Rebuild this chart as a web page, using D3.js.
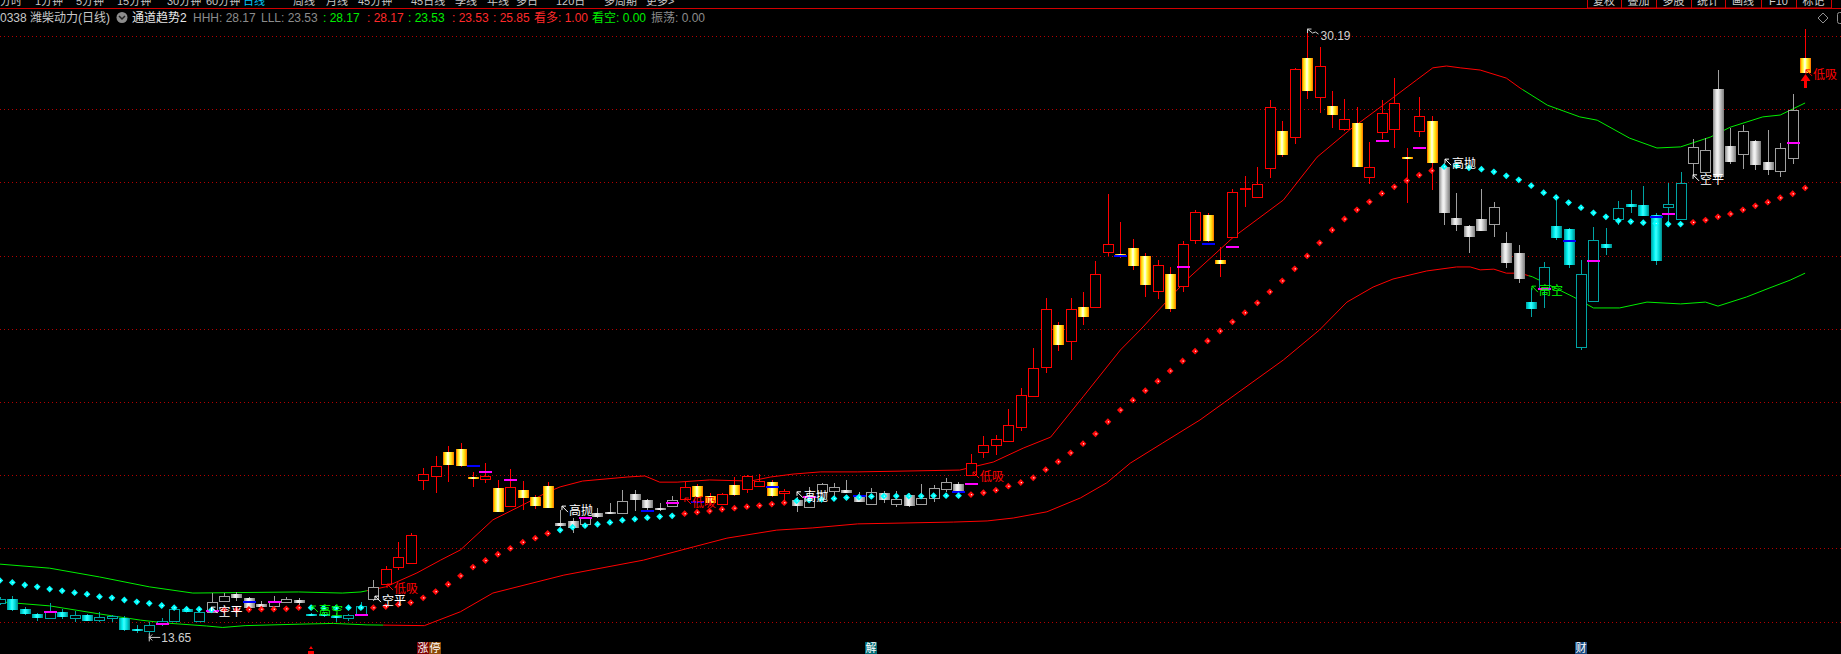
<!DOCTYPE html>
<html><head><meta charset="utf-8">
<script src="https://cdn.jsdelivr.net/npm/d3@7"></script>
<style>
html,body{margin:0;padding:0;background:#000;overflow:hidden;}
svg{display:block;}
text{font-family:"Liberation Sans","Noto Sans CJK SC",sans-serif;}
</style></head><body>
<svg id="c" width="1841" height="654"></svg>
<script>
// ---------------- DATA ----------------
const firstIndex = -1; // first (partly hidden) candle
const opens = [
14.50,14.61,14.34,14.21,14.11,14.27,14.09,14.18,14.04,14.11,
14.11,13.81,13.75,13.93,14.02,14.34,14.02,14.27,14.57,14.76,
14.64,14.48,14.43,14.53,14.59,14.21,14.21,14.15,14.11,14.17,
14.63,15.02,15.50,15.61,17.87,17.98,18.63,18.72,17.96,17.89,
17.66,17.17,17.60,17.41,17.70,16.69,16.75,16.66,16.96,16.99,
16.96,17.49,17.32,17.11,17.17,17.34,17.71,17.43,17.21,17.73,
17.61,17.71,17.82,17.51,17.32,17.14,17.55,17.58,17.60,17.43,
17.21,17.51,17.21,17.46,17.21,17.39,17.62,17.76,18.01,18.64,
18.82,18.94,19.32,20.17,20.96,22.10,21.68,22.59,22.59,24.11,
24.04,24.21,23.99,23.04,23.50,23.18,24.42,25.11,23.88,24.50,
25.81,25.61,26.39,27.40,27.25,29.39,28.34,28.09,27.47,27.63,
26.16,27.37,27.45,26.69,27.40,27.68,26.43,25.02,24.81,24.99,
24.86,24.34,24.06,22.73,23.09,24.81,24.72,21.49,22.77,24.31,
24.99,25.40,25.38,25.11,25.34,24.99,26.54,26.29,28.54,26.99,
26.77,27.14,26.56,26.32,26.66,29.39];
const highs = [
14.67,14.70,14.40,14.23,14.51,14.34,14.30,14.21,14.25,14.18,
14.15,13.91,13.99,14.11,14.37,14.41,14.29,14.77,14.78,14.80,
14.67,14.55,14.70,14.67,14.64,14.23,14.26,14.23,14.21,14.54,
15.14,15.52,16.18,16.43,18.20,18.52,18.79,18.87,18.10,18.34,
17.87,18.16,17.84,17.47,17.82,17.05,16.82,16.87,17.10,17.25,
17.60,17.60,17.35,17.23,17.43,17.82,17.76,17.51,17.51,17.96,
18.01,18.03,17.87,17.62,17.41,17.68,17.80,17.80,17.87,17.53,
17.64,17.57,17.57,17.51,17.76,17.73,17.93,17.81,18.58,19.07,
19.10,19.81,20.38,21.48,22.83,22.19,22.83,23.01,23.85,25.68,
24.93,24.45,24.06,23.88,23.70,24.41,25.25,25.17,24.23,25.81,
26.18,26.43,28.25,27.68,29.12,30.19,29.71,28.51,28.28,28.05,
27.11,28.25,28.84,26.93,28.33,27.81,26.53,25.70,24.84,25.81,
25.47,24.65,24.29,23.11,23.83,25.61,24.75,23.88,24.77,24.75,
25.48,25.79,25.90,25.16,25.99,26.28,27.18,27.22,29.07,27.49,
27.57,27.16,27.43,27.07,28.42,30.18];
const lows = [
14.45,14.29,14.18,14.02,14.10,14.07,14.00,14.01,13.99,14.00,
13.74,13.69,13.65,13.88,13.99,14.26,13.99,14.26,14.56,14.55,
14.37,14.37,14.43,14.51,14.45,14.15,14.13,14.00,14.01,14.15,
14.55,15.00,15.41,15.60,17.60,17.52,17.82,18.23,17.69,17.78,
16.99,17.16,17.05,17.07,17.10,16.59,16.42,16.64,16.83,16.94,
16.94,17.03,17.02,17.02,17.16,17.32,17.40,17.16,17.19,17.43,
17.51,17.68,17.40,17.28,17.00,17.13,17.54,17.41,17.51,17.27,
17.19,17.23,17.14,17.14,17.19,17.28,17.55,17.54,17.98,18.46,
18.55,18.93,19.21,20.13,20.80,21.39,21.15,22.11,22.57,24.00,
23.93,23.61,22.88,22.81,22.47,23.01,24.32,24.37,23.42,24.48,
25.32,25.57,26.13,26.70,27.04,28.28,27.90,27.49,27.40,26.42,
25.95,27.19,26.95,25.43,27.25,25.79,24.84,24.68,24.06,24.67,
24.52,23.67,23.24,22.33,22.56,24.43,23.65,21.42,22.76,24.02,
24.84,25.16,25.08,23.74,24.93,24.97,26.20,26.28,26.15,26.50,
26.37,26.34,26.20,26.16,26.50,28.99];
const closes = [
14.61,14.32,14.21,14.11,14.25,14.13,14.18,14.02,14.12,14.15,
13.77,13.75,13.91,14.02,14.34,14.27,14.25,14.53,14.70,14.64,
14.38,14.41,14.55,14.61,14.52,14.16,14.14,14.11,14.18,14.43,
14.94,15.44,15.76,16.37,18.02,18.25,18.28,18.25,17.89,17.98,
17.00,17.67,17.39,17.17,17.11,16.62,16.57,16.84,16.87,16.95,
17.30,17.32,17.10,17.05,17.32,17.67,17.41,17.23,17.49,17.46,
17.98,17.84,17.43,17.57,17.16,17.43,17.75,17.67,17.52,17.28,
17.53,17.31,17.34,17.17,17.37,17.64,17.81,17.55,18.32,18.82,
18.98,19.37,20.18,20.93,22.53,21.56,22.53,22.33,23.49,24.31,
23.99,23.72,23.20,23.73,22.54,24.31,25.18,24.40,23.76,25.73,
25.86,25.95,28.05,26.75,29.09,28.51,29.19,27.84,27.72,26.43,
26.41,27.89,28.16,26.65,27.81,26.54,25.17,24.84,24.52,24.68,
25.34,23.79,23.35,22.53,23.70,24.49,23.74,23.49,24.43,24.22,
25.29,25.34,25.09,23.86,25.40,25.98,26.98,26.89,26.16,26.56,
27.40,26.48,26.34,26.93,27.98,29.00];
// middle channel (dotted)
const midLine = [
15.12,15.07,15.00,14.95,14.89,14.84,14.79,14.75,14.68,14.65,
14.59,14.54,14.50,14.44,14.38,14.34,14.34,14.32,14.32,14.32,
14.33,14.34,14.34,14.35,14.38,14.38,14.37,14.37,14.38,14.38,
14.38,14.41,14.47,14.52,14.65,14.82,15.02,15.25,15.49,15.67,
15.84,16.00,16.17,16.28,16.41,16.50,16.58,16.62,16.66,16.71,
16.77,16.80,16.84,16.87,16.89,16.95,16.99,17.02,17.07,17.10,
17.14,17.17,17.21,17.25,17.30,17.32,17.34,17.36,17.39,17.40,
17.42,17.43,17.43,17.43,17.43,17.44,17.44,17.44,17.47,17.52,
17.59,17.70,17.80,17.93,18.15,18.37,18.61,18.86,19.13,19.46,
19.78,20.05,20.31,20.57,20.85,21.12,21.39,21.67,21.94,22.19,
22.44,22.71,23.01,23.31,23.64,23.99,24.35,24.70,25.00,25.25,
25.47,25.70,25.88,26.05,26.20,26.32,26.43,26.45,26.40,26.36,
26.29,26.18,26.07,25.91,25.72,25.59,25.45,25.31,25.17,25.06,
24.95,24.93,24.90,24.88,24.86,24.86,24.91,24.97,25.06,25.14,
25.25,25.36,25.46,25.58,25.69,25.85];
// upper / lower channel read points [candle position, price]
const upperPts = [[-1,15.57],[3,15.46],[7,15.22],[11,14.95],[14.5,14.78],[23,14.81],[26.5,14.78],[28,14.81],[30,14.95],[32.5,15.33],[34.4,15.68],[36,15.96],[38.6,16.78],[41.3,17.24],[43,17.54],[44,17.68],[45.8,17.84],[49.4,17.95],[50.8,17.98],[52,17.81],[53.4,17.81],[56,17.87],[59.3,17.84],[60.9,17.95],[62.7,18.03],[64.9,18.09],[67.9,18.09],[76.1,18.14],[78.8,18.36],[81.2,18.74],[83.4,19.04],[86,20.14],[89,21.42],[90.6,21.97],[94.3,23.33],[98.1,24.51],[102.1,25.52],[104.8,26.69],[107.4,27.43],[110.1,28.11],[112.8,28.80],[114.1,29.13],[115.2,29.18],[116.3,29.13],[117.9,29.07],[120,28.85],[121.1,28.58],[123.3,28.11],[125.9,27.79],[127.3,27.70],[129.9,27.21],[132.1,26.94],[134,26.97],[136.4,27.24],[138,27.51],[140.6,27.79],[142,27.84],[144,28.17]];
const lowerPts = [[-1,14.54],[3,14.43],[7,14.21],[10.3,14.04],[12.4,13.96],[15.6,13.88],[16.9,13.84],[18.7,13.89],[23.1,13.93],[25.8,13.95],[28.5,13.91],[33.1,13.89],[36,14.27],[38.6,14.78],[44.3,15.27],[50.7,15.68],[54.7,16.04],[57.4,16.28],[61.4,16.50],[64.3,16.56],[67.9,16.67],[75.6,16.72],[78.3,16.75],[80.4,16.83],[83.1,17.00],[85.8,17.38],[87.9,17.79],[89.8,18.33],[92.4,18.88],[95.4,19.51],[102.1,21.15],[105,21.97],[107.2,22.73],[109.3,23.14],[110.9,23.36],[113.6,23.58],[116,23.69],[117.1,23.69],[117.9,23.61],[119,23.63],[120,23.52],[121.1,23.52],[122.1,23.42],[125.4,22.87],[127,22.57],[129.1,22.57],[131.3,22.73],[134,22.68],[136,22.73],[137,22.62],[139.3,22.87],[141.1,23.11],[142.8,23.33],[144,23.52]];
// trend state runs  [from, to, state]  r = strong, g = neutral, c = weak
const candleStates = [[-1,15,"c"],[16,23,"g"],[24,28,"c"],[29,29,"g"],[30,43,"r"],[44,53,"g"],[54,62,"r"],[63,76,"g"],[77,114,"r"],[115,121,"g"],[122,134,"c"],[135,143,"g"],[144,144,"r"]];
const dotStates = [[-1,16,"c"],[17,23,"r"],[24,28,"c"],[29,43,"r"],[44,53,"c"],[54,62,"r"],[63,76,"c"],[77,114,"r"],[115,134,"c"],[135,144,"r"]];
const upperStates = [[-1,28.5,"g"],[28.5,121.3,"r"],[121.3,144,"g"]];
const lowerStates = [[-1,29.8,"g"],[29.8,121.8,"r"],[121.8,144,"g"]];
// small marker dashes
const markIdx   = [3,12,16,19,21,28,37,38,40,46,51,53,55,61,64,68,76,77,89,94,96,98,110,113,123,125,127,132,133,143];
const markPrice = [14.25,13.93,14.29,14.53,14.54,14.17,18.24,18.10,17.86,16.82,17.02,17.23,17.28,17.67,17.41,17.44,17.53,17.76,23.98,23.68,24.31,24.23,27.12,26.93,23.09,24.39,23.86,25.05,25.13,27.07];
const markType  = ["m","m","m","b","m","m","b","m","m","m","b","m","b","b","m","b","b","m","b","m","b","m","m","m","m","b","m","b","m","m"];
// signals
const sigPos   = [16.0,24.07,30.1,29.13,44.15,54.03,63.03,77.17,115.08,122.06,135.0,144.07];
const sigPrice = [14.15,14.18,14.78,14.45,16.91,17.13,17.30,17.84,26.39,22.92,25.96,28.83];
const sigText  = ["空平","高空","低吸","空平","高抛","低吸","高抛","低吸","高抛","高空","空平","低吸"];
// extremes
const maxIdx = 104, maxVal = 30.19, minIdx = 11, minVal = 13.65;
// grid
const gridPrices = [30,28,26,24,22,20,18,16,14];
// bottom events
const eventIdx = [24,33,69,126];
const eventText = ["icon","涨停","解","财"];
// header
const menuItems = ["分时","1分钟","5分钟","15分钟","30分钟","60分钟","日线","周线","月线","45分钟","45日线","季线","年线","多日","120日","多周期","更多>"];
const menuX = [0,35,76,117,167,206,243,293,326,358,411,455,487,516,556,604,646];
const buttons = ["复权","叠加","多股","统计","画线","F10","标记"];
const buttonX = [1587,1621,1656,1691,1725,1761,1796,1831];
const infoTitle = "0338 潍柴动力(日线)";
const indName = "通道趋势2";
const infoParts = [
  {t:"HHH: 28.17", c:"gray", x:193},{t:"LLL: 23.53", c:"gray", x:261},
  {t:": 28.17", c:"green", x:323},{t:": 28.17", c:"red", x:367},
  {t:": 23.53", c:"green", x:408},{t:": 23.53", c:"red", x:452},
  {t:": 25.85", c:"red", x:493},{t:"看多: 1.00", c:"red", x:534},
  {t:"看空: 0.00", c:"green", x:592},{t:"振荡: 0.00", c:"gray", x:651}];

// ---------------- DRAW ----------------
const W = 1841, H = 654;
const svg = d3.select("#c");
svg.append("rect").attr("width",W).attr("height",H).attr("fill","#000");
const x = d3.scaleLinear().domain([-1,144]).range([-0.15,1805.1]);
const y = d3.scaleLinear().domain([14,30]).range([621.6,36]);
const stateOf = (runs,i)=>{const r=runs.find(r=>i>=r[0]&&i<=r[1]);return r?r[2]:"g";};

const defs = svg.append("defs");
function grad(id, stops){
  const g = defs.append("linearGradient").attr("id",id).attr("x1",0).attr("x2",1).attr("y1",0).attr("y2",0);
  stops.forEach(s=>g.append("stop").attr("offset",s[0]).attr("stop-color",s[1]));
}
grad("gR",[[0,"#ff5000"],[0.12,"#ffc800"],[0.3,"#ffff50"],[0.45,"#ffffff"],[0.62,"#ffff40"],[0.85,"#ffc000"],[1,"#ff6a00"]]);
grad("gG",[[0,"#8a8a8a"],[0.3,"#e6e6e6"],[0.45,"#f4f4f4"],[0.7,"#bcbcbc"],[1,"#7c7c7c"]]);
grad("gC",[[0,"#009c9c"],[0.3,"#00f4f4"],[0.45,"#40ffff"],[0.7,"#00dede"],[1,"#008888"]]);

const strokeCol = {r:"#ff0000", g:"#a0a0a0", c:"#00a4a4"};
const lineCol = {r:"#ff0000", g:"#00ee00", c:"#00ee00"};

// grid
svg.append("g").selectAll("line").data(gridPrices).join("line")
  .attr("x1",0).attr("x2",W)
  .attr("y1",d=>Math.round(y(d))+0.5).attr("y2",d=>Math.round(y(d))+0.5)
  .attr("stroke","#b40000").attr("stroke-dasharray","1,3");

// channel lines
const lineGen = d3.line().x(d=>x(d[0])).y(d=>y(d[1]));
function channel(pts, runs, name){
  runs.forEach((r,k)=>{
    const id = "clip"+name+k;
    defs.append("clipPath").attr("id",id).append("rect")
      .attr("x",k===0?-10:x(r[0])).attr("width",(k===runs.length-1?W+10:x(r[1]))-(k===0?-10:x(r[0])))
      .attr("y",0).attr("height",H);
    svg.append("path").datum(pts).attr("d",lineGen).attr("fill","none")
      .attr("stroke",lineCol[r[2]]).attr("stroke-width",1).attr("clip-path",`url(#${id})`);
  });
}
channel(upperPts, upperStates, "U");
channel(lowerPts, lowerStates, "L");

// candles
const candles = opens.map((o,k)=>({i:k+firstIndex,o,h:highs[k],l:lows[k],c:closes[k]}));
const cg = svg.append("g").attr("shape-rendering","crispEdges");
candles.forEach(d=>{
  const s = stateOf(candleStates,d.i);
  const cx = Math.round(x(d.i));
  const left = cx-5;
  const yo=y(d.o), yc=y(d.c), yh=y(d.h), yl=y(d.l);
  const top = Math.round(Math.min(yo,yc)), bot = Math.round(Math.max(yo,yc));
  const wc = strokeCol[s];
  const bull = d.c >= d.o;
  if(bull){
    cg.append("line").attr("x1",cx+0.5).attr("x2",cx+0.5).attr("y1",Math.round(yh)).attr("y2",top).attr("stroke",wc);
    cg.append("line").attr("x1",cx+0.5).attr("x2",cx+0.5).attr("y1",bot).attr("y2",Math.round(yl)).attr("stroke",wc);
    cg.append("rect").attr("x",left+0.5).attr("y",top+0.5).attr("width",10).attr("height",Math.max(1,bot-top))
      .attr("fill","#000").attr("stroke",wc);
  } else {
    cg.append("line").attr("x1",cx+0.5).attr("x2",cx+0.5).attr("y1",Math.round(yh)).attr("y2",Math.round(yl)).attr("stroke",wc);
    cg.append("rect").attr("x",left).attr("y",top).attr("width",11).attr("height",Math.max(2,bot-top))
      .attr("fill",`url(#g${s.toUpperCase()})`);
  }
});

// marker dashes
svg.append("g").attr("shape-rendering","crispEdges").selectAll("rect").data(markIdx).join("rect")
  .attr("x",(d)=>Math.round(x(d))-6).attr("width",13)
  .attr("y",(d,k)=>Math.round(y(markPrice[k]))-1).attr("height",2)
  .attr("fill",(d,k)=>markType[k]==="m"?"#ff00ff":"#0000ff");

// middle dots
const dg = svg.append("g");
midLine.forEach((v,k)=>{
  const i = k+firstIndex, s = stateOf(dotStates,i);
  const cx = x(i), cy = y(v);
  dg.append("path").attr("d",`M${cx},${cy-3.4}L${cx+3.4},${cy}L${cx},${cy+3.4}L${cx-3.4},${cy}Z`)
    .attr("fill", s==="c"?"#00ffff":"#ff0a0a");
  dg.append("rect").attr("x",cx).attr("y",cy-0.5).attr("width",1.2).attr("height",1.2)
    .attr("fill", s==="c"?"#c0ffff":"#ffffff");
});

// signal labels
const sigColor = {"空平":"#ffffff","高抛":"#ffffff","高空":"#00ff00","低吸":"#ff0000"};
const lg = svg.append("g");
sigText.forEach((t,k)=>{
  const xs = x(sigPos[k]), yb = y(sigPrice[k]);
  const col = sigColor[t];
  lg.append("path").attr("d",`M${xs+6},${yb-3}L${xs},${yb-9}M${xs},${yb-5}L${xs},${yb-9}L${xs+4},${yb-9}`)
    .attr("stroke",col).attr("fill","none").attr("stroke-width",1);
  lg.append("text").attr("x",xs+7).attr("y",yb).attr("fill",col)
    .attr("font-size",12).attr("font-family","'Noto Sans CJK SC'").text(t);
});
// big up arrow under last candle
{
  const last = candles[candles.length-1];
  const cx = Math.round(x(last.i))+0.5, yt = y(last.l)+1;
  lg.append("path").attr("d",`M${cx},${yt}L${cx+5},${yt+7}L${cx+1.5},${yt+7}L${cx+1.5},${yt+14}L${cx-1.5},${yt+14}L${cx-1.5},${yt+7}L${cx-5},${yt+7}Z`)
    .attr("fill","#ff0000");
}
// max / min labels
{
  const mx = Math.round(x(maxIdx))+0.5, my = y(maxVal);
  lg.append("path").attr("d",`M${mx},${my}L${mx},${my+4}M${mx},${my}L${mx+4},${my}M${mx},${my}L${mx+5},${my+4}L${mx+8},${my+3}L${mx+11},${my+5}`)
    .attr("stroke","#d0d0d0").attr("fill","none");
  lg.append("text").attr("x",mx+13).attr("y",my+11).attr("fill","#d0d0d0").attr("font-size",12).text(maxVal.toFixed(2));
  const nx = x(minIdx), ny = y(minVal)+3;
  lg.append("path").attr("d",`M${nx},${ny}L${nx+11},${ny}M${nx+3},${ny-3}L${nx},${ny}L${nx+3},${ny+3}M${nx},${ny-4}L${nx},${ny+4}`)
    .attr("stroke","#d0d0d0").attr("fill","none");
  lg.append("text").attr("x",nx+12).attr("y",ny+5).attr("fill","#d0d0d0").attr("font-size",12).text(minVal.toFixed(2));
}

// bottom events
const eg = svg.append("g");
eventIdx.forEach((idx,k)=>{
  const cx = Math.round(x(idx)), t = eventText[k];
  if(t==="icon"){
    eg.append("path").attr("d",`M${cx-2},${649}L${cx},${646}L${cx+2},${649}Z M${cx-3},${651}L${cx+3},${651}L${cx+3},${654}L${cx-3},${654}Z`).attr("fill","#ff0000");
    return;
  }
  const bgs = t==="涨停"?["#7a0000","#8a4a08"]:(t==="解"?["#006a74"]:["#1a4a80"]);
  [...t].forEach((ch,j)=>{
    const bx = cx-6+j*12;
    eg.append("rect").attr("x",bx).attr("y",642).attr("width",12).attr("height",12).attr("fill",bgs[j]);
    eg.append("text").attr("x",bx+6).attr("y",652).attr("text-anchor","middle").attr("fill","#ffffff")
      .attr("font-size",11).attr("font-family","'Noto Sans CJK SC'").text(ch);
  });
});

// header: menu (clipped at top like the reference)
const hg = svg.append("g");
menuItems.forEach((t,k)=>{
  hg.append("text").attr("x",menuX[k]).attr("y",5).attr("font-size",11)
    .attr("fill", t==="日线"?"#00c8ff":"#c8c8c8").text(t);
});
buttons.forEach((t,k)=>{
  hg.append("rect").attr("x",buttonX[k]+0.5).attr("y",-2).attr("width",buttonX[k+1]-buttonX[k]).attr("height",10)
    .attr("fill","#000").attr("stroke","#d00000");
  hg.append("text").attr("x",(buttonX[k]+buttonX[k+1])/2).attr("y",5).attr("text-anchor","middle")
    .attr("font-size",11).attr("fill","#d0d0d0").text(t);
});
hg.append("line").attr("x1",0).attr("x2",W).attr("y1",8.5).attr("y2",8.5).attr("stroke","#d00000");
// icons at right
hg.append("path").attr("d","M1823,13L1828,18L1823,23L1818,18Z").attr("fill","none").attr("stroke","#909090");
hg.append("rect").attr("x",1837.5).attr("y",12.5).attr("width",8).attr("height",11).attr("rx",2).attr("fill","none").attr("stroke","#909090");

// info line
const infoColor = {gray:"#8c8c8c", green:"#00ee00", red:"#ff2a2a"};
hg.append("text").attr("x",0).attr("y",22).attr("font-size",12).attr("fill","#c8c8c8").text(infoTitle);
hg.append("circle").attr("cx",122).attr("cy",17.5).attr("r",5.5).attr("fill","#8c8c8c");
hg.append("path").attr("d","M119,16L122,19L125,16").attr("stroke","#202020").attr("stroke-width",1.5).attr("fill","none");
hg.append("text").attr("x",132).attr("y",22).attr("font-size",12).attr("fill","#e8e8e8").text(indName);
infoParts.forEach(p=>{
  hg.append("text").attr("x",p.x).attr("y",22).attr("font-size",12).attr("fill",infoColor[p.c]).text(p.t);
});
</script>
</body></html>
